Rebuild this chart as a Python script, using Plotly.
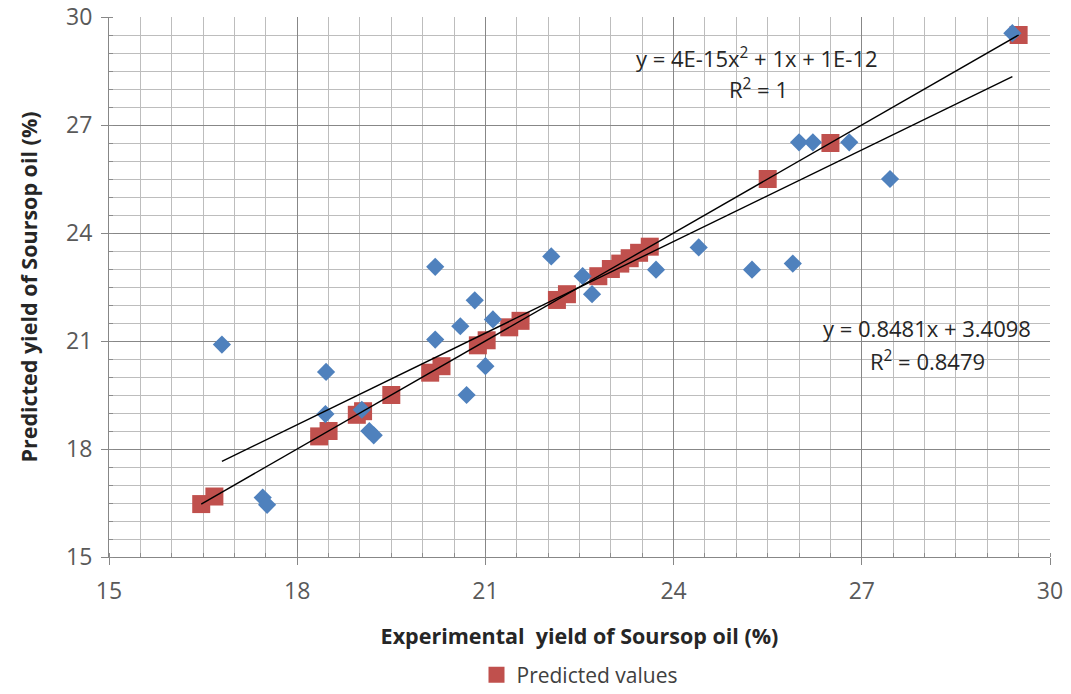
import plotly.graph_objects as go

# Experimental (x) vs predicted (y) yields
exp_x = [16.8, 17.45, 17.52, 18.45, 18.46, 19.03, 19.15, 19.22, 20.2, 20.2, 20.6, 20.83,
         20.7, 21.0, 21.12, 22.05, 22.55, 22.7, 23.72, 24.4, 25.25, 25.9, 26.0, 26.22,
         26.8, 27.45, 29.4]
exp_y = [20.9, 16.65, 16.45, 18.97, 20.14, 19.09, 18.5, 18.38, 23.06, 21.04, 21.41, 22.13,
         19.5, 20.3, 21.6, 23.35, 22.8, 22.3, 22.98, 23.6, 22.98, 23.15, 26.52, 26.52,
         26.52, 25.5, 29.55]

# Predicted values plotted against themselves
pred = [16.47, 16.68, 18.35, 18.5, 18.95, 19.05, 19.5, 20.12, 20.3, 20.88, 21.02, 21.38,
        21.56, 22.14, 22.3, 22.8, 23.0, 23.15, 23.3, 23.45, 23.62, 25.5, 26.5, 29.5]

# Trendline coefficients (from chart labels)
lin_slope, lin_intercept = 0.8481, 3.4098
poly_a, poly_b, poly_c = 4e-15, 1.0, 1e-12

lin_x = [min(exp_x), max(exp_x)]
lin_y = [lin_slope * v + lin_intercept for v in lin_x]
poly_x = [min(pred), max(pred)]
poly_y = [poly_a * v * v + poly_b * v + poly_c for v in poly_x]

FONT = "Open Sans"
fig = go.Figure()
fig.add_trace(go.Scatter(x=pred, y=pred, mode="markers", name="Predicted values",
                         marker=dict(symbol="square", size=18, color="#C0504D",
                                     line=dict(width=0))))
fig.add_trace(go.Scatter(x=exp_x, y=exp_y, mode="markers", name="Experimental values",
                         showlegend=False,
                         marker=dict(symbol="diamond", size=14, color="#4F81BD",
                                     line=dict(width=0))))
fig.add_trace(go.Scatter(x=poly_x, y=poly_y, mode="lines", showlegend=False,
                         line=dict(color="black", width=1.4)))
fig.add_trace(go.Scatter(x=lin_x, y=lin_y, mode="lines", showlegend=False,
                         line=dict(color="black", width=1.4)))

axis_common = dict(
    range=[15, 30], dtick=3, tick0=15, automargin=False,
    showgrid=True, gridcolor="#878787", gridwidth=1,
    minor=dict(dtick=0.5, showgrid=True, gridcolor="#bdbdbd", gridwidth=1,
               ticks="inside", ticklen=4, tickcolor="#8c8c8c"),
    showline=True, linecolor="#878787", linewidth=1,
    ticks="outside", ticklen=7, tickcolor="#878787",
    zeroline=False,
    tickfont=dict(family=FONT, size=23, color="#595959"),
)

ANN_FONT = dict(family=FONT, size=22, color="#262626")

fig.update_layout(
    width=1071, height=694,
    paper_bgcolor="white", plot_bgcolor="white",
    margin=dict(l=109, r=21, t=17, b=137, autoexpand=False),
    xaxis=dict(**axis_common, ticklabelstandoff=6,
               title=dict(text="<b>Experimental  yield of Soursop oil (%)</b>",
                          font=dict(family=FONT, size=21.5, color="#262626"), standoff=24)),
    yaxis=dict(**axis_common, ticklabelstandoff=4,
               title=dict(text="<b>Predicted yield of Soursop oil (%)</b>",
                          font=dict(family=FONT, size=21.5, color="#262626"), standoff=22)),
    showlegend=True,
    legend=dict(orientation="h", x=0.5, xanchor="center", y=-0.2185, yanchor="middle",
                font=dict(family=FONT, size=21, color="#404040"),
                bgcolor="rgba(0,0,0,0)", tracegroupgap=0),
    annotations=[
        dict(xref="paper", yref="paper", x=(757 - 109) / 941, y=1 - (57 - 17) / 540,
             text="y = 4E-15x<sup>2</sup> + 1x + 1E-12", showarrow=False,
             font=ANN_FONT, xanchor="center", yanchor="middle"),
        dict(xref="paper", yref="paper", x=(758 - 109) / 941, y=1 - (88 - 17) / 540,
             text="R<sup>2</sup> = 1", showarrow=False,
             font=ANN_FONT, xanchor="center", yanchor="middle"),
        dict(xref="paper", yref="paper", x=(927 - 109) / 941, y=1 - (328 - 17) / 540,
             text="y = 0.8481x + 3.4098", showarrow=False,
             font=ANN_FONT, xanchor="center", yanchor="middle"),
        dict(xref="paper", yref="paper", x=(927 - 109) / 941, y=1 - (360 - 17) / 540,
             text="R<sup>2</sup> = 0.8479", showarrow=False,
             font=ANN_FONT, xanchor="center", yanchor="middle"),
    ],
)

fig.write_html("out.html")
